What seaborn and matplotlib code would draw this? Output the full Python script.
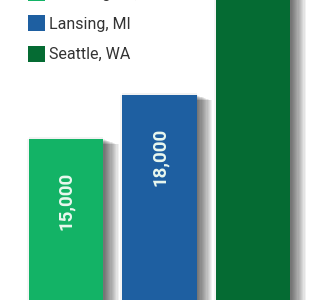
import matplotlib
matplotlib.use("Agg")
import matplotlib.pyplot as plt
import matplotlib.patheffects as pe
import seaborn as sns
import pandas as pd

cities = ["Washington, DC", "Lansing, MI", "Seattle, WA"]
values = [15000, 18000, 25000]
labels = ["15,000", "18,000", "25,000"]
colors = ["#13b366", "#1e5fa1", "#056b33"]

sns.set_theme(style="white")
plt.rcParams['font.family'] = ['Roboto', 'DejaVu Sans']

df = pd.DataFrame({"city": cities, "value": values})
fig = plt.figure(figsize=(3.3, 3.0), dpi=100)
ax = fig.add_axes([0, 0, 1, 1])
sns.barplot(data=df, x="city", y="value", hue="city", palette=colors,
            width=0.8, ax=ax, legend=True, saturation=1, linewidth=0, edgecolor="none")

shadow = [pe.SimplePatchShadow(offset=(k * 0.85, -0.3 * k), shadow_rgbFace="black", alpha=0.055)
          for k in range(1, 14)]
shadow += [pe.SimplePatchShadow(offset=(0, 1.5), shadow_rgbFace="black", alpha=0.05),
           pe.SimplePatchShadow(offset=(-1.2, 0), shadow_rgbFace="black", alpha=0.04)]
for p in ax.patches:
    p.set_path_effects(shadow + [pe.Normal()])

for i, (v, t) in enumerate(zip(values, labels)):
    ax.annotate(t, xy=(i, v), xytext=(0, -44.6), textcoords="offset points",
                rotation=90, ha="center", va="center", color="#e9f8ef",
                fontsize=13.5, fontweight="semibold")

ax.set_xlim(-0.706, 2.824)
ax.set_ylim(4023, 24477)
ax.set_axis_off()

leg = ax.legend(loc="upper left", bbox_to_anchor=(0.085, 1.05), frameon=False,
                borderaxespad=0, borderpad=0, fontsize=11.5, handlelength=1.05,
                handleheight=1.15, handletextpad=0.25, labelspacing=0.88)
for t in leg.get_texts():
    t.set_color("#333333")
for h in leg.legend_handles:
    h.set_path_effects([pe.Normal()])
    h.set_linewidth(0)

fig.savefig("out.png", dpi=100)
